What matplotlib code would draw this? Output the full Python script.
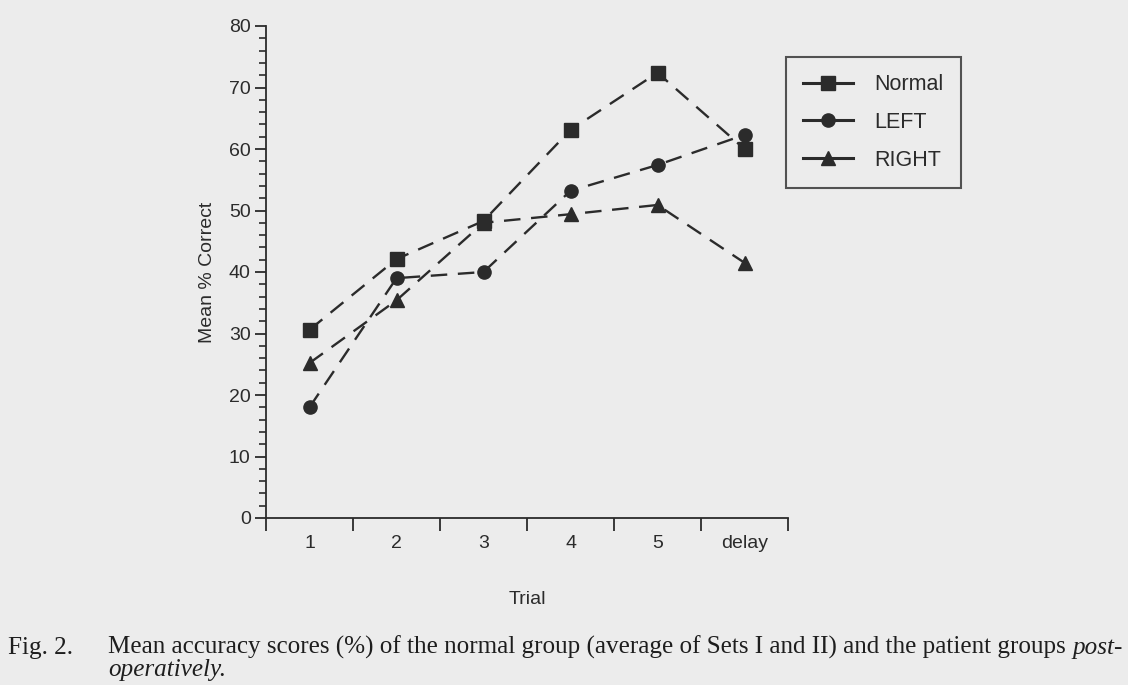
import matplotlib
matplotlib.use("Agg")
import matplotlib.pyplot as plt
from matplotlib.lines import Line2D
from matplotlib.ticker import MultipleLocator, FixedLocator

# data
trials = ["1", "2", "3", "4", "5", "delay"]
normal = [30.6, 42.1, 48.3, 63.1, 72.4, 60.0]
left = [18.0, 39.0, 40.0, 53.2, 57.4, 62.3]
right = [25.2, 35.4, 48.0, 49.4, 50.9, 41.5]

series_names = ["Normal", "LEFT", "RIGHT"]
series_markers = ["s", "o", "^"]

BG = "#ececec"
INK = "#2b2b2b"

plt.rcParams['font.family'] = ['Liberation Sans', 'DejaVu Sans']

fig = plt.figure(figsize=(11.28, 6.85), dpi=100, facecolor=BG)
ax = fig.add_axes([266/1128, 1 - 518/685, (788-266)/1128, (518-26)/685])
ax.set_facecolor(BG)

x = list(range(1, len(trials) + 1))
for vals, mk in zip([normal, left, right], series_markers):
    ms = 10 if mk == "^" else 9.5
    ax.plot(x, vals, color=INK, linestyle=(0, (7, 4.5)), linewidth=1.7,
            marker=mk, markersize=ms, markerfacecolor=INK, markeredgecolor=INK, zorder=3)

ax.set_xlim(0.5, len(trials) + 0.5)
ax.set_ylim(0, 80)

for s in ["top", "right"]:
    ax.spines[s].set_visible(False)
for s in ["left", "bottom"]:
    ax.spines[s].set_linewidth(1.3)
    ax.spines[s].set_color(INK)

# x: ticks on category boundaries, labels centred
ax.xaxis.set_major_locator(FixedLocator([i + 0.5 for i in range(0, len(trials) + 1)]))
ax.xaxis.set_minor_locator(FixedLocator(x))
ax.set_xticklabels([])
ax.set_xticklabels(trials, minor=True)
ax.tick_params(axis='x', which='major', direction='out', length=9, width=1.3, color=INK)
ax.tick_params(axis='x', which='minor', length=0, pad=12, labelsize=14, labelcolor=INK)

ax.yaxis.set_major_locator(MultipleLocator(10))
ax.yaxis.set_minor_locator(MultipleLocator(2))
ax.tick_params(axis='y', which='major', direction='out', length=8, width=1.3, color=INK,
               labelsize=14, labelcolor=INK, pad=3)
ax.tick_params(axis='y', which='minor', direction='out', length=5, width=1.2, color=INK)

ax.set_xlabel("Trial", fontsize=14, color=INK, labelpad=28)
ax.set_ylabel("Mean % Correct", fontsize=14, color=INK, labelpad=9)

handles = [Line2D([], [], color=INK, linestyle='-', linewidth=2.2, marker=mk,
                  markersize=10 if mk == "^" else 9.5, markerfacecolor=INK, markeredgecolor=INK)
           for mk in series_markers]
leg = fig.legend(handles, series_names, loc='upper left',
                 bbox_to_anchor=(786/1128, 1 - 57/685), bbox_transform=fig.transFigure,
                 frameon=True, fancybox=False, fontsize=15.5, handlelength=2.3,
                 handletextpad=1.0, labelspacing=0.78, borderpad=0.8, borderaxespad=0)
leg.get_frame().set_edgecolor(INK)
leg.get_frame().set_linewidth(1.5)
leg.get_frame().set_facecolor(BG)
for t in leg.get_texts():
    t.set_color(INK)

# caption
cap_kw = dict(fontsize=18.1, family=['Liberation Serif', 'DejaVu Serif'], color='#1e1e1e', va='baseline')
fig.text(8/1128, 1 - 654/685, "Fig. 2.", **cap_kw)
main = fig.text(108/1128, 1 - 654/685,
                "Mean accuracy scores (%) of the normal group (average of Sets I and II) and the patient groups ",
                **cap_kw)
fig.canvas.draw()
bb = main.get_window_extent(renderer=fig.canvas.get_renderer())
fig.text(bb.x1 / fig.bbox.width, 1 - 654/685, "post-", style='italic', **cap_kw)
fig.text(108/1128, 1 - 676/685, "operatively.", style='italic', **cap_kw)

fig.savefig("out.png", dpi=100, facecolor=BG)
